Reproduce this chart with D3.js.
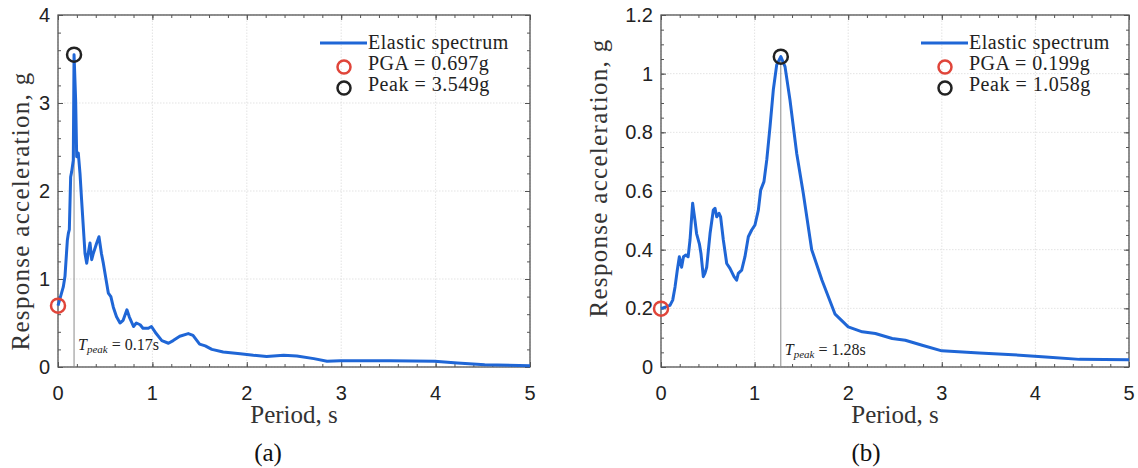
<!DOCTYPE html>
<html><head><meta charset="utf-8">
<script src="https://cdn.jsdelivr.net/npm/d3@7"></script>
<style>body{margin:0;background:#fff}svg{display:block}</style>
</head><body>
<svg id="c" width="1138" height="468"></svg>
<script>
// Panel (a) elastic spectrum
const periodA = [0,0.056,0.074,0.099,0.11,0.12,0.134,0.145,0.162,0.17,0.187,0.198,0.215,0.233,0.25,0.27,0.286,0.304,0.32,0.339,0.357,0.374,0.41,0.434,0.46,0.48,0.516,0.533,0.56,0.586,0.62,0.657,0.69,0.73,0.755,0.8,0.83,0.87,0.9,0.957,0.99,1.04,1.1,1.17,1.22,1.29,1.38,1.43,1.5,1.56,1.63,1.75,1.93,2.07,2.21,2.39,2.53,2.71,2.85,2.99,3.35,3.52,3.99,4.23,4.52,5.0];
const accelA  = [0.697,0.91,1.03,1.44,1.52,1.56,2.16,2.22,2.35,3.549,3.03,2.39,2.43,2.2,1.9,1.56,1.29,1.18,1.29,1.41,1.22,1.29,1.41,1.48,1.29,1.18,0.95,0.84,0.8,0.68,0.57,0.5,0.53,0.65,0.57,0.46,0.5,0.48,0.44,0.44,0.46,0.38,0.30,0.27,0.30,0.35,0.38,0.36,0.26,0.24,0.20,0.17,0.15,0.133,0.12,0.133,0.125,0.095,0.065,0.07,0.07,0.072,0.066,0.045,0.025,0.015];
// Panel (b) elastic spectrum
const periodB = [0,0.096,0.125,0.15,0.174,0.196,0.22,0.24,0.266,0.29,0.31,0.338,0.363,0.38,0.41,0.427,0.452,0.47,0.488,0.524,0.559,0.577,0.595,0.62,0.637,0.666,0.702,0.737,0.78,0.808,0.826,0.862,0.897,0.933,0.969,1.004,1.04,1.065,1.1,1.13,1.165,1.2,1.236,1.28,1.325,1.378,1.45,1.52,1.61,1.72,1.86,2.0,2.15,2.29,2.47,2.61,2.79,3.0,3.4,3.76,4.11,4.47,5.0];
const accelB  = [0.199,0.21,0.228,0.273,0.33,0.376,0.34,0.376,0.382,0.376,0.433,0.558,0.5,0.455,0.42,0.387,0.308,0.32,0.34,0.455,0.535,0.541,0.512,0.524,0.512,0.433,0.353,0.336,0.308,0.296,0.319,0.33,0.376,0.444,0.467,0.484,0.535,0.603,0.632,0.706,0.82,0.945,1.03,1.058,1.024,0.91,0.728,0.592,0.40,0.296,0.18,0.137,0.12,0.114,0.097,0.091,0.074,0.055,0.048,0.042,0.034,0.026,0.025];
const xTicks = [0,1,2,3,4,5];
const yTicksA = [0,1,2,3,4];
const yTicksB = [0,0.2,0.4,0.6,0.8,1,1.2];
const pgaA = 0.697, peakA = 3.549, tpeakA = 0.17;
const pgaB = 0.199, peakB = 1.058, tpeakB = 1.28;
const legendLabels = ["Elastic spectrum", "PGA = ", "Peak = "];

const svg = d3.select("#c");
const serif = "'Liberation Serif','DejaVu Serif',serif";
const sans = "'Liberation Sans',Arial,sans-serif";
const blue = "#1f66d6", red = "#e0453a", dark = "#222";

function panel(o){
  const x = d3.scaleLinear().domain([0,5]).range([o.x0,o.x1]);
  const y = d3.scaleLinear().domain([0,o.ymax]).range([367,15]);
  const g = svg.append("g");
  g.selectAll(".gx").data(xTicks).join("line")
    .attr("x1",d=>x(d)).attr("x2",d=>x(d)).attr("y1",y(0)).attr("y2",y(o.ymax))
    .attr("stroke","#dcdcdc").attr("stroke-width",0.8).attr("stroke-dasharray","1.5,1.5");
  g.selectAll(".gy").data(o.yTicks).join("line")
    .attr("y1",d=>y(d)).attr("y2",d=>y(d)).attr("x1",x(0)).attr("x2",x(5))
    .attr("stroke","#dcdcdc").attr("stroke-width",0.8).attr("stroke-dasharray","1.5,1.5");
  const xMinor = d3.range(0,5.0001,0.2);
  const yMinor = d3.range(0,o.ymax+1e-6,o.yMinor);
  const mk = (axis, tf) => g.append("g").attr("transform",tf).call(axis).call(s=>s.select(".domain").remove())
      .call(s=>s.selectAll("line").attr("stroke","#555"));
  mk(d3.axisTop(x).tickValues(xMinor).tickSize(3).tickFormat(""),`translate(0,${y(0)})`);
  mk(d3.axisTop(x).tickValues(xTicks).tickSize(5).tickFormat(""),`translate(0,${y(0)})`);
  mk(d3.axisBottom(x).tickValues(xMinor).tickSize(3).tickFormat(""),`translate(0,${y(o.ymax)})`);
  mk(d3.axisBottom(x).tickValues(xTicks).tickSize(5).tickFormat(""),`translate(0,${y(o.ymax)})`);
  mk(d3.axisRight(y).tickValues(yMinor).tickSize(3).tickFormat(""),`translate(${x(0)},0)`);
  mk(d3.axisRight(y).tickValues(o.yTicks).tickSize(5).tickFormat(""),`translate(${x(0)},0)`);
  mk(d3.axisLeft(y).tickValues(yMinor).tickSize(3).tickFormat(""),`translate(${x(5)},0)`);
  mk(d3.axisLeft(y).tickValues(o.yTicks).tickSize(5).tickFormat(""),`translate(${x(5)},0)`);
  g.selectAll(".xl").data(xTicks).join("text").attr("x",d=>x(d)).attr("y",400)
    .attr("text-anchor","middle").attr("font-family",sans).attr("font-size",20).attr("fill","#222").text(d=>d);
  g.selectAll(".yl").data(o.yTicks).join("text").attr("x",x(0)-8).attr("y",d=>y(d)+7)
    .attr("text-anchor","end").attr("font-family",sans).attr("font-size",20).attr("fill","#222").text(d=>d3.format("~g")(d));
  g.append("rect").attr("x",x(0)).attr("y",y(o.ymax)).attr("width",x(5)-x(0)).attr("height",y(0)-y(o.ymax))
    .attr("fill","none").attr("stroke","#555").attr("stroke-width",1.3);
  g.append("line").attr("x1",x(o.tpeak)).attr("x2",x(o.tpeak)).attr("y1",y(0)).attr("y2",y(o.peak))
    .attr("stroke","#8a8a8a").attr("stroke-width",1);
  const pts = o.per.map((t,i)=>[t,o.acc[i]]);
  g.append("path").datum(pts).attr("d",d3.line().x(d=>x(d[0])).y(d=>y(d[1])))
    .attr("fill","none").attr("stroke",blue).attr("stroke-width",3).attr("stroke-linejoin","round");
  g.append("circle").attr("cx",x(0)).attr("cy",y(o.pga)).attr("r",7).attr("fill","none").attr("stroke",red).attr("stroke-width",2.5);
  g.append("circle").attr("cx",x(o.tpeak)).attr("cy",y(o.peak)).attr("r",7).attr("fill","none").attr("stroke",dark).attr("stroke-width",2.5);
  const t = g.append("text").attr("x",x(o.tpeak)+4).attr("y",o.annY).attr("font-family",serif).attr("font-size",16).attr("fill","#222");
  t.append("tspan").attr("font-style","italic").text("T");
  t.append("tspan").attr("font-style","italic").attr("font-size",11).attr("dy",3).text("peak");
  t.append("tspan").attr("dy",-3).text(" = "+o.tpeak+"s");
  const lx = o.legX;
  g.append("line").attr("x1",lx).attr("x2",lx+47).attr("y1",43).attr("y2",43).attr("stroke",blue).attr("stroke-width",3);
  g.append("circle").attr("cx",lx+24).attr("cy",67).attr("r",6.5).attr("fill","none").attr("stroke",red).attr("stroke-width",2.5);
  g.append("circle").attr("cx",lx+24).attr("cy",88).attr("r",6.5).attr("fill","none").attr("stroke",dark).attr("stroke-width",2.5);
  const texts = [legendLabels[0], legendLabels[1]+d3.format(".3f")(o.pga)+"g", legendLabels[2]+d3.format(".3f")(o.peak)+"g"];
  g.selectAll(".lg").data(texts).join("text").attr("x",lx+48).attr("y",(d,i)=>[49,70,91][i])
    .attr("font-family",serif).attr("font-size",20).attr("letter-spacing",0.5).attr("fill","#222").text(d=>d);
  g.append("text").attr("transform",`translate(${o.ylabX},${o.ylabY}) rotate(-90)`).attr("text-anchor","middle")
    .attr("font-family",serif).attr("font-size",25).attr("letter-spacing",1.3).attr("fill","#333").text("Response acceleration, g");
  g.append("text").attr("x",(x(0)+x(5))/2).attr("y",423).attr("text-anchor","middle")
    .attr("font-family",serif).attr("font-size",25).attr("fill","#333").text("Period, s");
  g.append("text").attr("x",o.capX).attr("y",461).attr("text-anchor","middle")
    .attr("font-family",serif).attr("font-size",25).attr("fill","#111").text(o.cap);
}

panel({x0:58,x1:530,ymax:4,yTicks:yTicksA,yMinor:0.2,per:periodA,acc:accelA,pga:pgaA,peak:peakA,tpeak:tpeakA,legX:320,ylabX:29,ylabY:211,annY:350,capX:268,cap:"(a)"});
panel({x0:661,x1:1129,ymax:1.2,yTicks:yTicksB,yMinor:0.05,per:periodB,acc:accelB,pga:pgaB,peak:peakB,tpeak:tpeakB,legX:921,ylabX:607,ylabY:178,annY:355,capX:866,cap:"(b)"});
</script>
</body></html>
